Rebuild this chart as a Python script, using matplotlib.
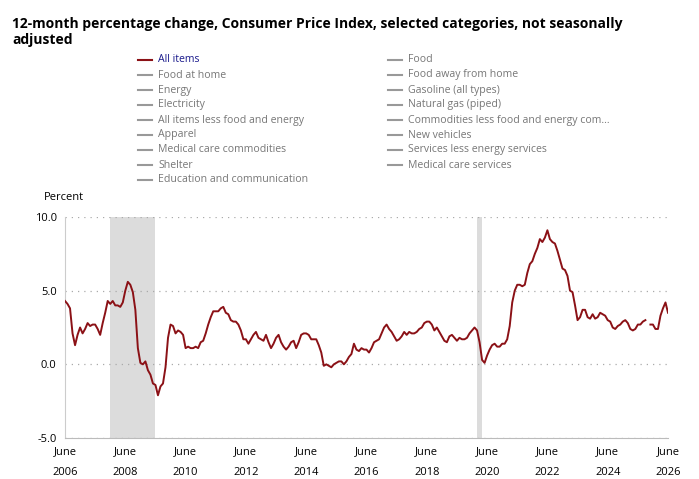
import numpy as np
import matplotlib.pyplot as plt
from matplotlib.lines import Line2D

# 12-month % change, All items CPI-U, June 2006 .. June 2026 (Oct 2025 missing)
cpi_2006 = [4.3, 4.1, 3.8, 2.1, 1.3, 2.0, 2.5]
cpi_2007 = [2.1, 2.4, 2.8, 2.6, 2.7, 2.7, 2.4, 2.0, 2.8, 3.5, 4.3, 4.1]
cpi_2008 = [4.3, 4.0, 4.0, 3.9, 4.2, 5.0, 5.6, 5.4, 4.9, 3.7, 1.1, 0.1]
cpi_2009 = [0.0, 0.2, -0.4, -0.7, -1.3, -1.4, -2.1, -1.5, -1.3, -0.2, 1.8, 2.7]
cpi_2010 = [2.6, 2.1, 2.3, 2.2, 2.0, 1.1, 1.2, 1.1, 1.1, 1.2, 1.1, 1.5]
cpi_2011 = [1.6, 2.1, 2.7, 3.2, 3.6, 3.6, 3.6, 3.8, 3.9, 3.5, 3.4, 3.0]
cpi_2012 = [2.9, 2.9, 2.7, 2.3, 1.7, 1.7, 1.4, 1.7, 2.0, 2.2, 1.8, 1.7]
cpi_2013 = [1.6, 2.0, 1.5, 1.1, 1.4, 1.8, 2.0, 1.5, 1.2, 1.0, 1.2, 1.5]
cpi_2014 = [1.6, 1.1, 1.5, 2.0, 2.1, 2.1, 2.0, 1.7, 1.7, 1.7, 1.3, 0.8]
cpi_2015 = [-0.1, 0.0, -0.1, -0.2, 0.0, 0.1, 0.2, 0.2, 0.0, 0.2, 0.5, 0.7]
cpi_2016 = [1.4, 1.0, 0.9, 1.1, 1.0, 1.0, 0.8, 1.1, 1.5, 1.6, 1.7, 2.1]
cpi_2017 = [2.5, 2.7, 2.4, 2.2, 1.9, 1.6, 1.7, 1.9, 2.2, 2.0, 2.2, 2.1]
cpi_2018 = [2.1, 2.2, 2.4, 2.5, 2.8, 2.9, 2.9, 2.7, 2.3, 2.5, 2.2, 1.9]
cpi_2019 = [1.6, 1.5, 1.9, 2.0, 1.8, 1.6, 1.8, 1.7, 1.7, 1.8, 2.1, 2.3]
cpi_2020 = [2.5, 2.3, 1.5, 0.3, 0.1, 0.6, 1.0, 1.3, 1.4, 1.2, 1.2, 1.4]
cpi_2021 = [1.4, 1.7, 2.6, 4.2, 5.0, 5.4, 5.4, 5.3, 5.4, 6.2, 6.8, 7.0]
cpi_2022 = [7.5, 7.9, 8.5, 8.3, 8.6, 9.1, 8.5, 8.3, 8.2, 7.7, 7.1, 6.5]
cpi_2023 = [6.4, 6.0, 5.0, 4.9, 4.0, 3.0, 3.2, 3.7, 3.7, 3.2, 3.1, 3.4]
cpi_2024 = [3.1, 3.2, 3.5, 3.4, 3.3, 3.0, 2.9, 2.5, 2.4, 2.6, 2.7, 2.9]
cpi_2025 = [3.0, 2.8, 2.4, 2.3, 2.4, 2.7, 2.7, 2.9, 3.0, np.nan, 2.7, 2.7]
cpi_2026 = [2.4, 2.4, 3.3, 3.8, 4.2, 3.5]

values = np.array(cpi_2006 + cpi_2007 + cpi_2008 + cpi_2009 + cpi_2010 + cpi_2011 + cpi_2012
                  + cpi_2013 + cpi_2014 + cpi_2015 + cpi_2016 + cpi_2017 + cpi_2018 + cpi_2019
                  + cpi_2020 + cpi_2021 + cpi_2022 + cpi_2023 + cpi_2024 + cpi_2025 + cpi_2026)
months = np.arange(len(values))  # 0 = June 2006

# recessions in months since June 2006
recessions = [(18, 36), (164, 166)]
tick_years = list(range(2006, 2027, 2))

legend_left = ['All items', 'Food at home', 'Energy', 'Electricity', 'All items less food and energy',
               'Apparel', 'Medical care commodities', 'Shelter', 'Education and communication']
legend_right = ['Food', 'Food away from home', 'Gasoline (all types)', 'Natural gas (piped)',
                'Commodities less food and energy com...', 'New vehicles', 'Services less energy services',
                'Medical care services']

plt.rcParams['font.family'] = ['Open Sans', 'DejaVu Sans']
fig = plt.figure(figsize=(6.99, 4.79), dpi=100)
W, H = 699, 479

fig.text(12 / W, 1 - 32 / H, '12-month percentage change, Consumer Price Index, selected categories, not seasonally\nadjusted',
         fontsize=10, weight='bold', va='center', ha='left', linespacing=1.25)

red = '#8b1116'
grey = '#999999'
for col, (items, x0) in enumerate([(legend_left, 138), (legend_right, 388)]):
    for i, lab in enumerate(items):
        y = 1 - (60 + 15 * i) / H
        c = red if (col == 0 and i == 0) else grey
        fig.add_artist(Line2D([x0 / W, (x0 + 14) / W], [y, y], color=c, lw=1.5))
        tc = '#1a1a8c' if (col == 0 and i == 0) else '#777777'
        fig.text((x0 + 20) / W, y, lab, fontsize=7.6, color=tc, va='center', ha='left')

fig.text(44 / W, 1 - 198 / H, 'Percent', fontsize=8, va='center', ha='left')

ax = fig.add_axes([65 / W, 41 / H, 603 / W, 221 / H])
for a, b in recessions:
    ax.axvspan(a, b, color='#dcdcdc', lw=0, zorder=0)
ax.plot(months, values, color=red, lw=1.4, zorder=3)

ax.set_xlim(0, 240)
ax.set_ylim(-5, 10)
ax.set_yticks([-5, 0, 5, 10])
ax.set_yticklabels(['-5.0', '0.0', '5.0', '10.0'])
ax.set_xticks([(y - 2006) * 12 for y in tick_years])
ax.set_xticklabels([f'June\n\n{y}' for y in tick_years], linespacing=0.9)
ax.tick_params(labelsize=8, length=0, pad=6)
ax.grid(axis='y', linestyle=(0, (1, 4)), color='#aaaaaa', lw=0.9)
ax.set_axisbelow(True)
for s in ['top', 'right']:
    ax.spines[s].set_visible(False)
ax.spines['left'].set_color('#cccccc')
ax.spines['bottom'].set_color('#bbbbbb')

fig.savefig('out.png', dpi=100)
